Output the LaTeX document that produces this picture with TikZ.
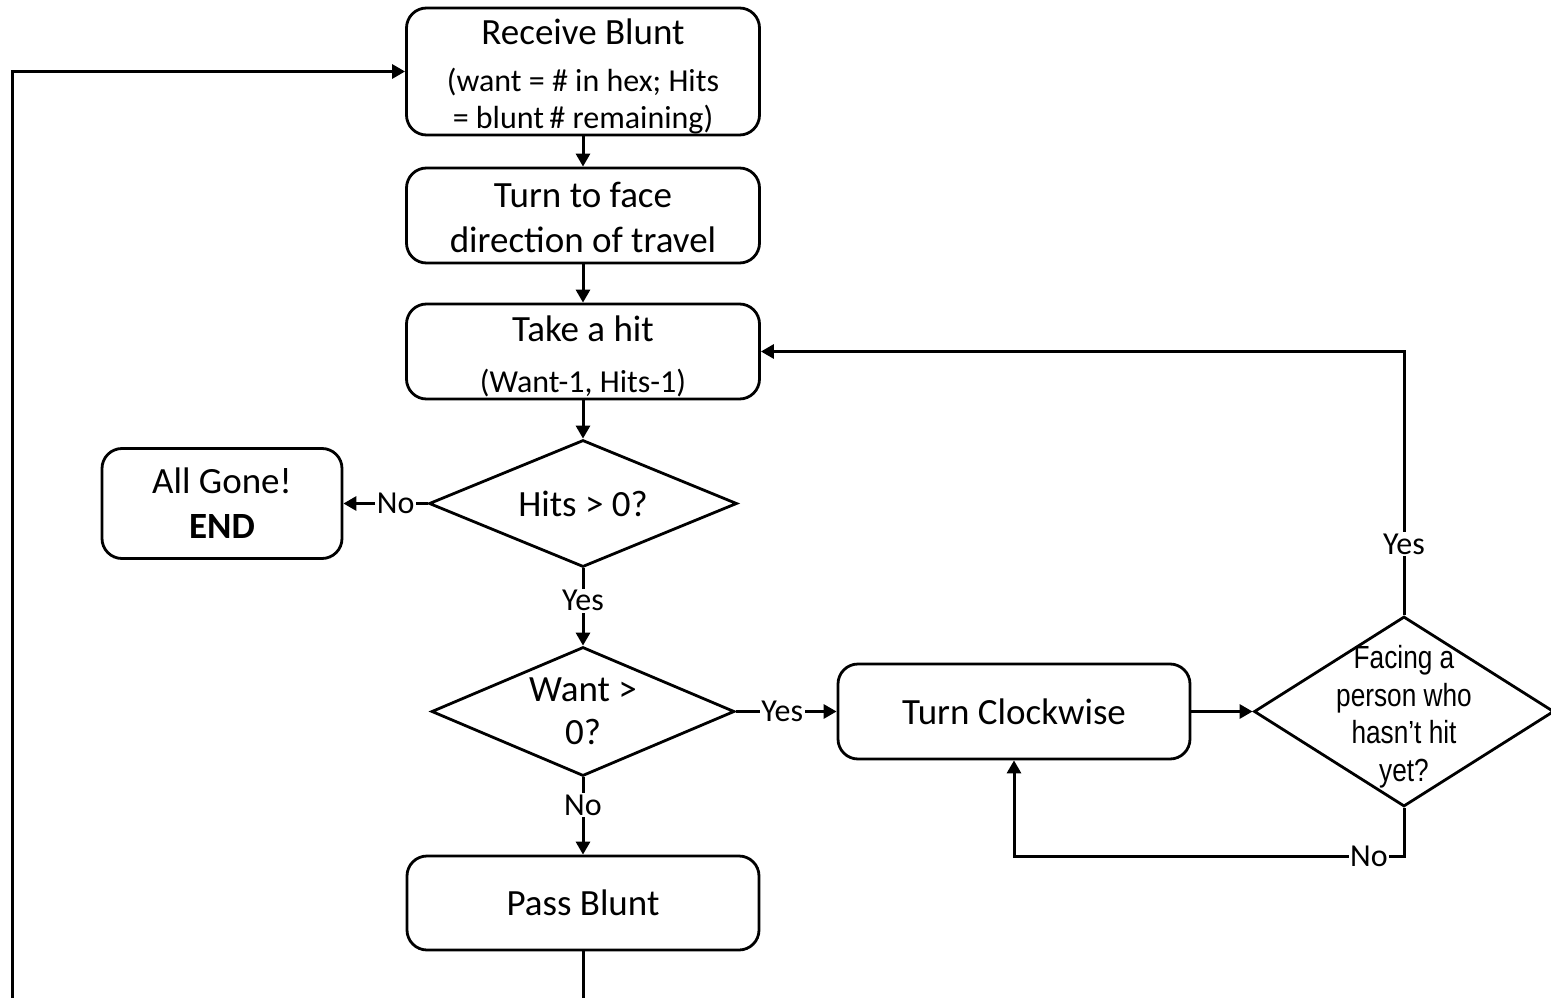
\documentclass[tikz,border=0pt]{standalone}
\usepackage{fontspec}
\setmainfont{Carlito}
\newfontfamily\arialn[FakeStretch=0.82]{Liberation Sans}
\usetikzlibrary{arrows.meta,shapes.geometric}
\begin{document}
\begin{tikzpicture}[x=1pt,y=-1pt,
  box/.style={draw, line width=2.8pt, rounded corners=20pt, minimum width=353pt, minimum height=95pt, align=center, inner sep=0pt, font=\fontsize{37}{45}\selectfont},
  dia/.style={draw, diamond, line width=2.8pt, inner sep=0pt},
  txt/.style={align=center, inner sep=0pt, font=\fontsize{37}{45}\selectfont},
  lab/.style={fill=white, inner sep=1.5pt, font=\fontsize{32}{36}\selectfont},
  arr/.style={line width=3pt, -{Triangle[length=13pt,width=14pt]}}]
\clip (0,0) rectangle (1551,998);
\useasboundingbox (0,0) rectangle (1551,998);

\node[box, minimum height=127pt, label={[txt, yshift=-4.5pt]center:Receive Blunt\\[2pt]{\fontsize{32}{37}\selectfont (want = \# in hex; Hits}\\[-8pt]{\fontsize{32}{37}\selectfont = blunt\,\# remaining)}}] (recv) at (583,71.5) {};
\node[box, label={[txt, yshift=-2pt]center:Turn to face\\direction of travel}] (turn) at (583,215.5) {};
\node[box, label={[txt, yshift=-4.5pt]center:Take a hit\\[6pt]{\fontsize{32}{37}\selectfont (Want-1, Hits-1)}}] (take) at (583,351.5) {};
\node[dia, minimum width=308pt, minimum height=127pt, label={[txt]center:Hits > 0?}] (hits) at (583,503.5) {};
\node[box, minimum width=240pt, minimum height=110pt] (gone) at (222,503.5) {All Gone!\\\textbf{END}};
\node[dia, minimum width=303pt, minimum height=129pt, label={[txt, font=\fontsize{37}{43}\selectfont]center:Want >\\0?}] (want) at (583,711.5) {};
\node[box, minimum width=352pt] (tc) at (1014,711.5) {Turn Clockwise};
\node[dia, minimum width=300pt, minimum height=190pt, label={[txt, yshift=-5pt, font=\arialn\fontsize{32}{37.5}\selectfont]center:Facing a\\person who\\hasn’t hit\\yet?}] (fac) at (1404,711.5) {};
\node[box, minimum width=352pt, minimum height=94pt] (pass) at (583,903) {Pass Blunt};

\coordinate (c1) at (fac.north |- take.east);
\coordinate (c2) at (1404,856);
\coordinate (c3) at (tc.south |- c2);
\coordinate (c4) at (583,1015);
\coordinate (c5) at (12,1015);
\coordinate (c6) at (12,71.5);

\draw[arr] (recv.south) -- (turn.north);
\draw[arr] (turn.south) -- (take.north);
\draw[arr] (take.south) -- (hits.north);
\draw[arr] (hits.west) -- node[lab, pos=0.38] {No} (gone.east);
\draw[arr] (hits.south) -- node[lab, pos=0.42] {Yes} (want.north);
\draw[arr] (want.east) -- node[lab, pos=0.46] {Yes} (tc.west);
\draw[arr] (want.south) -- node[lab, pos=0.36] {No} (pass.north);
\draw[arr] (tc.east) -- (fac.west);
\draw[arr] (fac.north) -- node[lab, pos=0.27] {Yes} (c1) -- (take.east);
\draw[arr] (fac.south) -- (c2) -- node[lab, pos=0.09] {No} (c3) -- (tc.south);
\draw[arr] (pass.south) -- (c4) -- (c5) -- (c6) -- (recv.west);
\end{tikzpicture}
\end{document}
